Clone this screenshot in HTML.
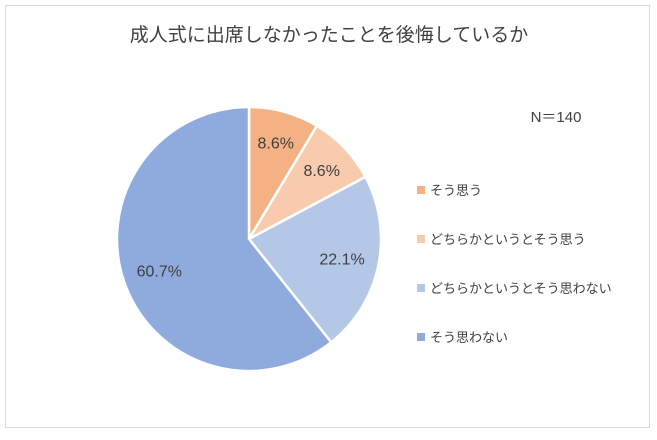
<!DOCTYPE html>
<html><head><meta charset="utf-8"><style>
body{margin:0;background:#fff;}
svg text{font-family:"Liberation Sans","Noto Sans CJK JP",sans-serif;fill:#404040;}
</style></head><body>
<svg width="657" height="435" viewBox="0 0 657 435">
<rect x="5.5" y="5.5" width="644" height="422" fill="#fff" stroke="#d9d9d9"/>
<text x="329" y="41" font-size="19" text-anchor="middle">成人式に出席しなかったことを後悔しているか</text>
<text x="556" y="122" font-size="15" text-anchor="middle">N＝140</text>
<g id="pie"></g>
<g id="legend"></g>
</svg>
<script>
const categories=["そう思う","どちらかというとそう思う","どちらかというとそう思わない","そう思わない"];
const values=[8.6,8.6,22.1,60.7];
const labels=["8.6%","8.6%","22.1%","60.7%"];
const colors=["#F4B183","#F8CBAD","#B4C7E7","#8FAADC"];
const NS="http://www.w3.org/2000/svg";
const cx=249,cy=239,r=132;
const total=values.reduce((a,b)=>a+b,0);
const pie=document.getElementById('pie');
const lg=document.getElementById('legend');
let a0=0;
function pt(a,rr){return [cx+rr*Math.sin(a),cy-rr*Math.cos(a)];}
values.forEach((v,i)=>{
  const a1=a0+v/total*2*Math.PI;
  const p0=pt(a0,r),p1=pt(a1,r);
  const large=(a1-a0)>Math.PI?1:0;
  const path=document.createElementNS(NS,'path');
  path.setAttribute('d',`M${cx},${cy}L${p0[0]},${p0[1]}A${r},${r} 0 ${large} 1 ${p1[0]},${p1[1]}Z`);
  path.setAttribute('fill',colors[i]);
  path.setAttribute('stroke','#fff');
  path.setAttribute('stroke-width','2.5');
  
  
  pie.appendChild(path);
  const am=(a0+a1)/2;
  const lr=v>50?r*0.72:(v>15?r*0.72:r*0.76);
  const lp=pt(am,lr);
  const t=document.createElementNS(NS,'text');
  t.setAttribute('x',lp[0]);t.setAttribute('y',lp[1]+6);
  t.setAttribute('font-size','16');t.setAttribute('text-anchor','middle');
  t.textContent=labels[i];
  
  
  pie.appendChild(t);
  const y=190+i*49;
  const m=document.createElementNS(NS,'rect');
  m.setAttribute('x',417);m.setAttribute('y',y-4);m.setAttribute('width',8);m.setAttribute('height',8);
  m.setAttribute('fill',colors[i]);
  
  
  lg.appendChild(m);
  const lt=document.createElementNS(NS,'text');
  lt.setAttribute('x',430);lt.setAttribute('y',y+5);lt.setAttribute('font-size','13');
  lt.textContent=categories[i];
  
  
  lg.appendChild(lt);
  a0=a1;
});
</script>
</body></html>
